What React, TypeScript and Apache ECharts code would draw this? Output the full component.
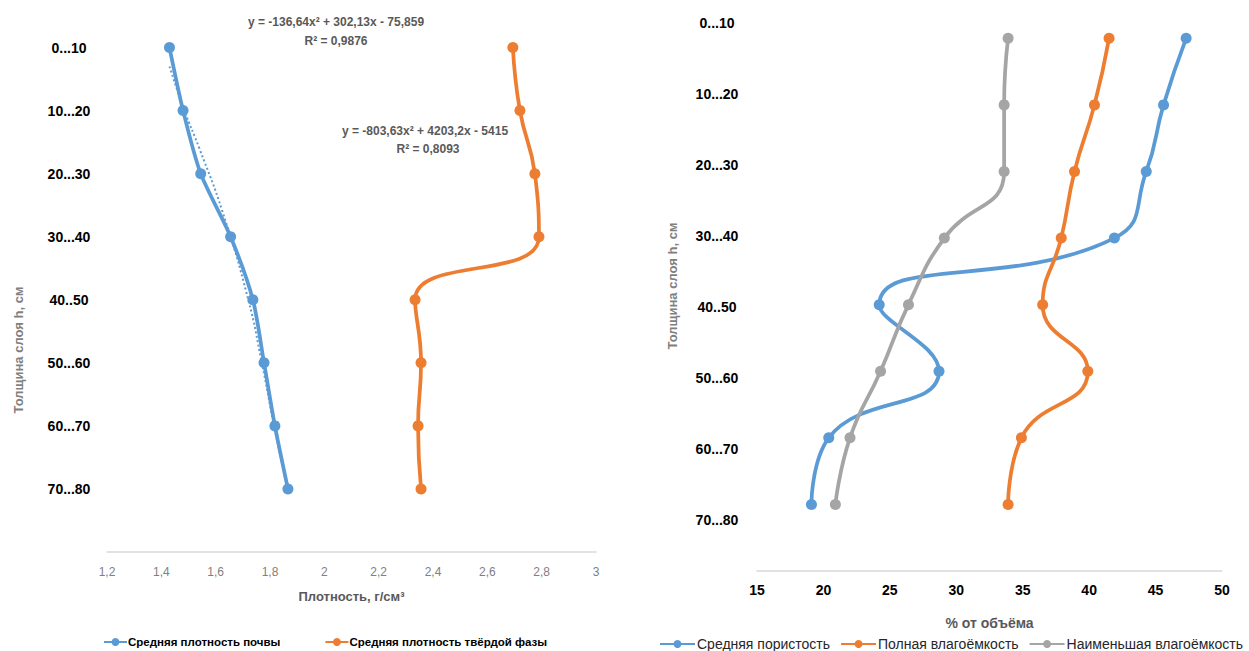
import React, { useEffect, useRef } from "react";
import * as echarts from "echarts";

const layers = ["0...10", "10...20", "20...30", "30...40", "40..50", "50...60", "60...70", "70...80"];
const rows = [0, 1, 2, 3, 4, 5, 6, 7];

const soilDensity = [1.43, 1.48, 1.545, 1.655, 1.737, 1.778, 1.818, 1.866];
const solidDensity = [2.694, 2.72, 2.775, 2.79, 2.334, 2.356, 2.345, 2.356];
// dotted polynomial trendline: [density, row]
const trendX = [1.43, 1.485, 1.54, 1.625, 1.72, 1.77, 1.815, 1.862];
const trendRow = [0.3, 1, 1.6, 2.6, 4, 5, 6, 6.95];

const porosity = [47.3, 45.6, 44.3, 41.9, 24.2, 28.7, 20.4, 19.1];
const fullCapacity = [41.5, 40.4, 38.9, 37.9, 36.5, 39.9, 34.9, 33.9];
const minCapacity = [33.9, 33.6, 33.6, 29.1, 26.4, 24.3, 22.0, 20.9];

const densityTicks = { min: 1.2, max: 3, interval: 0.2 };
const percentTicks = { min: 15, max: 50, interval: 5 };

const BLUE = "#5b9bd5";
const ORANGE = "#ed7d31";
const GREY = "#a5a5a5";
const FONT = "'Liberation Sans', Arial, sans-serif";

const pairs = (xs: number[], ys: number[]) => xs.map((x, i) => [x, ys[i]]);

const rowLabel = (v: number) => {
  const r = Math.round(v * 1000) / 1000;
  return Number.isInteger(r) && r >= 0 && r < layers.length ? layers[r] : "";
};

export default function App() {
  const ref = useRef<HTMLDivElement>(null);
  useEffect(() => {
    if (!ref.current) return;
    const chart = echarts.init(ref.current, null, { renderer: "svg" });
    const lineSeries = (name: string, data: number[][], color: string, xi: number, yi: number, smooth: number) => ({
      name,
      type: "line",
      data,
      xAxisIndex: xi,
      yAxisIndex: yi,
      smooth,
      symbol: "circle",
      symbolSize: 11,
      itemStyle: { color },
      lineStyle: { color, width: 3.75 },
      z: 3,
    });
    chart.setOption({
      animation: false,
      backgroundColor: "#ffffff",
      textStyle: { fontFamily: FONT },
      grid: [
        { left: 107, width: 489, top: 16, height: 536, outerBoundsMode: "none" },
        { left: 757, width: 465, top: 5, height: 566, outerBoundsMode: "none" },
      ],
      xAxis: [
        {
          type: "value",
          gridIndex: 0,
          position: "bottom",
          ...densityTicks,
          axisLine: { show: true, onZero: false, lineStyle: { color: "#d9d9d9", width: 1.5 } },
          axisTick: { show: false },
          splitLine: { show: false },
          axisLabel: {
            color: "#7f7f7f",
            fontSize: 12,
            margin: 14,
            formatter: (v: number) => String(Math.round(v * 10) / 10).replace(".", ","),
          },
          name: "Плотность, г/см³",
          nameLocation: "middle",
          nameGap: 38,
          nameTextStyle: { color: "#595959", fontSize: 13, fontWeight: "bold" },
        },
        {
          type: "value",
          gridIndex: 1,
          position: "bottom",
          ...percentTicks,
          axisLine: { show: true, onZero: false, lineStyle: { color: "#d9d9d9", width: 1.5 } },
          axisTick: { show: false },
          splitLine: { show: false },
          axisLabel: { color: "#000000", fontSize: 14, fontWeight: "bold", margin: 12 },
          name: "% от объёма",
          nameLocation: "middle",
          nameGap: 45,
          nameTextStyle: { color: "#595959", fontSize: 14, fontWeight: "bold" },
        },
      ],
      yAxis: [
        {
          type: "value",
          gridIndex: 0,
          position: "left",
          inverse: true,
          min: -0.5,
          max: 8,
          interval: 0.5,
          axisLine: { show: false, onZero: false },
          axisTick: { show: false },
          splitLine: { show: false },
          axisLabel: {
            color: "#000000",
            fontSize: 14,
            fontWeight: "bold",
            align: "center",
            margin: 38,
            formatter: rowLabel,
          },
        },
        {
          type: "value",
          gridIndex: 1,
          position: "left",
          inverse: true,
          min: -0.5,
          max: 8,
          show: false,
        },
        {
          type: "value",
          gridIndex: 1,
          position: "left",
          offset: 0,
          inverse: true,
          min: -0.25,
          max: 7.72,
          interval: 0.25,
          axisLine: { show: false, onZero: false },
          axisTick: { show: false },
          splitLine: { show: false },
          axisLabel: {
            color: "#000000",
            fontSize: 14,
            fontWeight: "bold",
            align: "center",
            margin: 40,
            formatter: rowLabel,
          },
        },
      ],
      legend: [
        {
          data: ["Средняя плотность почвы", "Средняя плотность твёрдой фазы"],
          left: 98,
          top: 631,
          itemWidth: 23,
          itemHeight: 10,
          itemGap: 44,
          textStyle: { color: "#000000", fontSize: 11.5, fontWeight: "bold", padding: [0, 0, 0, -4] },
        },
        {
          data: ["Средняя пористость", "Полная влагоёмкость", "Наименьшая влагоёмкость"],
          left: 654,
          top: 632,
          itemWidth: 35,
          itemHeight: 10,
          itemGap: 10,
          textStyle: { color: "#262626", fontSize: 14, padding: [0, 0, 0, -3] },
        },
      ],
      series: [
        lineSeries("Средняя плотность почвы", pairs(soilDensity, rows), BLUE, 0, 0, 0.25),
        {
          name: "Полиномиальная (Средняя плотность почвы)",
          type: "line",
          data: pairs(trendX, trendRow),
          xAxisIndex: 0,
          yAxisIndex: 0,
          smooth: 0.5,
          symbol: "none",
          lineStyle: { color: BLUE, width: 2, type: [2, 2.5] },
          z: 2,
        },
        lineSeries("Средняя плотность твёрдой фазы", pairs(solidDensity, rows), ORANGE, 0, 0, 0.5),
        lineSeries("Средняя пористость", pairs(porosity, rows), BLUE, 1, 1, 0.5),
        lineSeries("Полная влагоёмкость", pairs(fullCapacity, rows), ORANGE, 1, 1, 0.5),
        lineSeries("Наименьшая влагоёмкость", pairs(minCapacity, rows), GREY, 1, 1, 0.5),
      ],
      graphic: [
        {
          type: "text",
          x: 336,
          y: 22,
          style: {
            text: "y = -136,64x² + 302,13x - 75,859",
            fill: "#595959",
            font: `bold 12px ${FONT}`,
            textAlign: "center",
            textVerticalAlign: "middle",
          },
        },
        {
          type: "text",
          x: 336,
          y: 41,
          style: {
            text: "R² = 0,9876",
            fill: "#595959",
            font: `bold 12px ${FONT}`,
            textAlign: "center",
            textVerticalAlign: "middle",
          },
        },
        {
          type: "text",
          x: 425,
          y: 131,
          style: {
            text: "y = -803,63x² + 4203,2x - 5415",
            fill: "#595959",
            font: `bold 12px ${FONT}`,
            textAlign: "center",
            textVerticalAlign: "middle",
          },
        },
        {
          type: "text",
          x: 428,
          y: 149,
          style: {
            text: "R² = 0,8093",
            fill: "#595959",
            font: `bold 12px ${FONT}`,
            textAlign: "center",
            textVerticalAlign: "middle",
          },
        },
        {
          type: "text",
          x: 18,
          y: 350,
          rotation: Math.PI / 2,
          style: {
            text: "Толщина слоя h, см",
            fill: "#7f7f7f",
            font: `bold 13px ${FONT}`,
            textAlign: "center",
            textVerticalAlign: "middle",
          },
        },
        {
          type: "text",
          x: 672,
          y: 286,
          rotation: Math.PI / 2,
          style: {
            text: "Толщина слоя h, см",
            fill: "#7f7f7f",
            font: `bold 13px ${FONT}`,
            textAlign: "center",
            textVerticalAlign: "middle",
          },
        },
      ],
    });
    return () => chart.dispose();
  }, []);
  return (
    <div
      ref={ref}
      style={{ position: "fixed", left: 0, top: 0, width: 1249, height: 651 }}
    />
  );
}
